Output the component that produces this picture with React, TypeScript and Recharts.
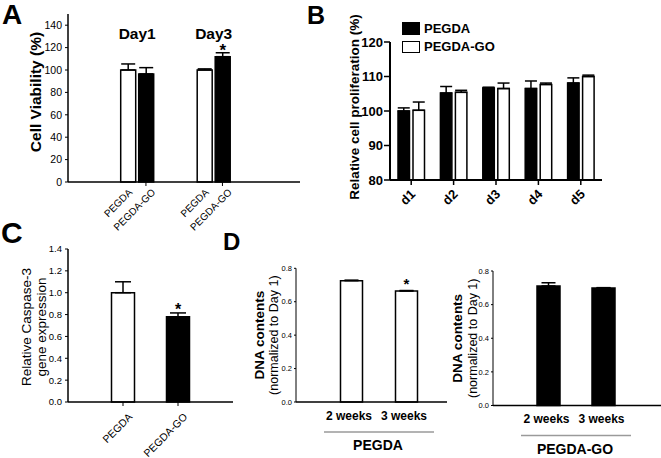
import React from 'react';
import { BarChart, Bar, XAxis, YAxis, ErrorBar, LabelList, Legend, Cell } from 'recharts';

const FONT = '"Liberation Sans", Arial, Helvetica, sans-serif';

const materials = ['PEGDA', 'PEGDA-GO'];

// A: cell viability (%)
const viabilityDays = ['Day1', 'Day3'];
const viabilityPegda = [100, 100];
const viabilityPegdaErr = [5.4, 1.0];
const viabilityGo = [96.5, 111.9];
const viabilityGoErr = [5.6, 3.5];
const viabilityStars = ['', '*'];
const viabilityTicks = [0, 20, 40, 60, 80, 100, 120, 140];

// B: relative cell proliferation (%)
const prolifDays = ['d1', 'd2', 'd3', 'd4', 'd5'];
const prolifPegda = [100, 105.2, 106.7, 106.5, 108.1];
const prolifPegdaErr = [0.9, 1.9, 0.2, 2.2, 1.5];
const prolifGo = [100.2, 105.4, 106.5, 107.7, 110.0];
const prolifGoErr = [2.4, 0.6, 1.6, 0.4, 0.4];
const prolifTicks = [80, 90, 100, 110, 120];

// C: caspase-3 expression
const caspaseValues = [1.0, 0.78];
const caspaseErr = [0.1, 0.035];
const caspaseStars = ['', '*'];
const caspaseTicks = [0, 0.2, 0.4, 0.6, 0.8, 1.0, 1.2, 1.4];

// D: DNA contents
const weeks = ['2 weeks', '3 weeks'];
const dnaPegda = [0.726, 0.664];
const dnaPegdaErr = [0.003, 0.003];
const dnaPegdaStars = ['', '*'];
const dnaGo = [0.711, 0.699];
const dnaGoErr = [0.019, 0.002];
const dnaGoStars = ['', ''];
const dnaTicks = [0, 0.2, 0.4, 0.6, 0.8];

const viabilityData = viabilityDays.map((day, i) => ({
  day,
  pegda: viabilityPegda[i],
  pegdaErr: [0, viabilityPegdaErr[i]],
  go: viabilityGo[i],
  goErr: [0, viabilityGoErr[i]],
  star: viabilityStars[i],
}));

const prolifData = prolifDays.map((day, i) => ({
  day,
  pegda: prolifPegda[i],
  pegdaErr: [0, prolifPegdaErr[i]],
  go: prolifGo[i],
  goErr: [0, prolifGoErr[i]],
}));

const caspaseData = materials.map((name, i) => ({
  name,
  value: caspaseValues[i],
  err: [0, caspaseErr[i]],
  star: caspaseStars[i],
}));

const dnaPegdaData = weeks.map((week, i) => ({
  week,
  value: dnaPegda[i],
  err: [0, dnaPegdaErr[i]],
  star: dnaPegdaStars[i],
}));

const dnaGoData = weeks.map((week, i) => ({
  week,
  value: dnaGo[i],
  err: [0, dnaGoErr[i]],
  star: dnaGoStars[i],
}));

const axisLine = { stroke: '#000', strokeWidth: 1.5 };
const tickLine = { stroke: '#000', strokeWidth: 1 };

type TitleLine = { text: string; dx: number; size: number; weight: string };

// rotated y-axis title, one or more lines
const yTitle = (lines: TitleLine[], dy = 0) => (props: any) => {
  const { x, y, height } = props.viewBox;
  const cy = y + height / 2 + dy;
  return (
    <g>
      {lines.map((l) => (
        <text
          key={l.text}
          x={x + l.dx}
          y={cy}
          transform={`rotate(-90, ${x + l.dx}, ${cy})`}
          textAnchor="middle"
          fontFamily={FONT}
          fontSize={l.size}
          fontWeight={l.weight}
          fill="#000"
        >
          {l.text}
        </text>
      ))}
    </g>
  );
};

// grey bracket + group name under panel D
const groupTitle = (name: string) => (props: any) => {
  const { x, y } = props.viewBox;
  return (
    <g>
      <line x1={x + 28} x2={x + 138} y1={y + 30} y2={y + 30} stroke="#9a9a9a" strokeWidth={1.5} />
      <text x={x + 82} y={y + 48} textAnchor="middle" fontFamily={FONT} fontSize={14} fontWeight="bold" fill="#000">
        {name}
      </text>
    </g>
  );
};

const starLabel = (size: number, dy: number) => (props: any) => {
  const { x, y, width, value } = props;
  if (!value) return null;
  return (
    <text x={x + width / 2} y={y + dy} textAnchor="middle" fontFamily={FONT} fontSize={size} fontWeight="bold" fill="#000">
      {value}
    </text>
  );
};

const dayLabel = (props: any) => {
  const { x, width, value } = props;
  return (
    <text x={x + width + 1.5} y={38.5} textAnchor="middle" fontFamily={FONT} fontSize={15.5} fontWeight="bold" fill="#000">
      {value}
    </text>
  );
};

const rotated = (x: number, y: number, text: string, size: number, weight = 'normal') => (
  <text
    x={x}
    y={y}
    textAnchor="end"
    transform={`rotate(-45, ${x}, ${y})`}
    fontFamily={FONT}
    fontSize={size}
    fontWeight={weight}
    fill="#000"
  >
    {text}
  </text>
);

const ViabilityTick = (props: any) => {
  const { x, y } = props;
  return (
    <g>
      <line x1={x + 9} x2={x + 9} y1={y} y2={y + 4} stroke="#000" strokeWidth={1} />
      {rotated(x - 4, y + 11, materials[0], 10)}
      {rotated(x + 19, y + 11, materials[1], 10)}
    </g>
  );
};

const ProlifTick = (props: any) => {
  const { x, y, payload } = props;
  return rotated(x + 5, y + 10, payload.value, 13, 'bold');
};

const CaspaseTick = (props: any) => {
  const { x, y, payload } = props;
  return rotated(x + 10, y + 11.6, payload.value, 10.5);
};

const WeekTick = (props: any) => {
  const { x, y, payload } = props;
  return (
    <text x={x - 2} y={y + 17.5} textAnchor="middle" fontFamily={FONT} fontSize={12} fontWeight="bold" fill="#000">
      {payload.value}
    </text>
  );
};

const ProlifLegend = (props: any) => (
  <div style={{ fontFamily: FONT, fontWeight: 'bold', fontSize: 13, color: '#000' }}>
    {(props.payload || []).map((entry: any) => (
      <div key={entry.value} style={{ display: 'flex', alignItems: 'center', height: 18.5 }}>
        <span
          style={{
            display: 'inline-block',
            boxSizing: 'border-box',
            width: 18,
            height: 12.5,
            background: entry.color,
            border: '1.5px solid #000',
            marginRight: 4,
          }}
        />
        <span>{entry.value}</span>
      </div>
    ))}
  </div>
);

const letter = (text: string, left: number, top: number, size: number) => (
  <div
    style={{
      position: 'absolute',
      left,
      top,
      fontFamily: FONT,
      fontWeight: 'bold',
      fontSize: size,
      lineHeight: 1.1,
      color: '#000',
    }}
  >
    {text}
  </div>
);

const App = () => {
  const tickText = (size: number, weight = 'normal') => ({ fill: '#000', fontSize: size, fontFamily: FONT, fontWeight: weight });
  return (
    <div style={{ position: 'absolute', left: 0, top: 0, width: 661, height: 458, background: '#fff', overflow: 'hidden' }}>
      {/* A */}
      <div style={{ position: 'absolute', left: 0, top: 0 }}>
        <BarChart width={300} height={246} data={viabilityData} margin={{ top: 14, right: 0, bottom: 0, left: 0 }} barSize={15} barGap={3}>
          <XAxis
            dataKey="day"
            height={64}
            padding={{ left: 30.7, right: 48.3 }}
            interval={0}
            axisLine={axisLine}
            tickLine={false}
            tickSize={0}
            tickMargin={0}
            tick={<ViabilityTick />}
          />
          <YAxis
            width={68}
            domain={[0, 150]}
            ticks={viabilityTicks}
            interval={0}
            axisLine={axisLine}
            tickLine={tickLine}
            tickSize={3}
            tickMargin={3}
            tick={tickText(10.5)}
            label={yTitle([{ text: 'Cell Viability (%)', dx: 40.5, size: 15.5, weight: 'bold' }], -6)}
          />
          <Bar dataKey="pegda" name={materials[0]} fill="#fff" stroke="#000" strokeWidth={1.5} isAnimationActive={false}>
            <ErrorBar dataKey="pegdaErr" width={7} stroke="#000" strokeWidth={1.5} isAnimationActive={false} />
            <LabelList dataKey="day" content={dayLabel} />
          </Bar>
          <Bar dataKey="go" name={materials[1]} fill="#000" stroke="#000" strokeWidth={1.5} isAnimationActive={false}>
            <ErrorBar dataKey="goErr" width={7} stroke="#000" strokeWidth={1.5} isAnimationActive={false} />
            <LabelList dataKey="star" content={starLabel(17, -1)} />
          </Bar>
        </BarChart>
      </div>

      {/* B */}
      <div style={{ position: 'absolute', left: 300, top: 0 }}>
        <BarChart width={320} height={215} data={prolifData} margin={{ top: 42, right: 18, bottom: 0, left: 0 }} barSize={11.5} barGap={3.5}>
          <XAxis
            dataKey="day"
            height={35}
            interval={0}
            axisLine={{ stroke: '#000', strokeWidth: 2 }}
            tickLine={{ stroke: '#000', strokeWidth: 1.5 }}
            tickSize={5}
            tickMargin={0}
            tick={<ProlifTick />}
          />
          <YAxis
            width={90}
            domain={[80, 120]}
            ticks={prolifTicks}
            interval={0}
            axisLine={{ stroke: '#000', strokeWidth: 2 }}
            tickLine={{ stroke: '#000', strokeWidth: 1.5 }}
            tickSize={6}
            tickMargin={1}
            tick={tickText(13, 'bold')}
            label={yTitle([{ text: 'Relative cell proliferation (%)', dx: 59, size: 13.5, weight: 'bold' }], -4)}
          />
          <Legend
            layout="vertical"
            align="center"
            verticalAlign="middle"
            wrapperStyle={{ left: 102, top: 19, width: 'auto' }}
            content={<ProlifLegend />}
          />
          <Bar dataKey="pegda" name={materials[0]} fill="#000" stroke="#000" strokeWidth={1.5} isAnimationActive={false}>
            <ErrorBar dataKey="pegdaErr" width={6} stroke="#000" strokeWidth={1.5} isAnimationActive={false} />
          </Bar>
          <Bar dataKey="go" name={materials[1]} fill="#fff" stroke="#000" strokeWidth={1.5} isAnimationActive={false}>
            <ErrorBar dataKey="goErr" width={6} stroke="#000" strokeWidth={1.5} isAnimationActive={false} />
          </Bar>
        </BarChart>
      </div>

      {/* C */}
      <div style={{ position: 'absolute', left: 0, top: 235 }}>
        <BarChart width={240} height={223} data={caspaseData} margin={{ top: 14, right: 7, bottom: 0, left: 0 }} barSize={23}>
          <XAxis
            dataKey="name"
            height={56}
            padding={{ left: 27.5, right: 27.5 }}
            interval={0}
            axisLine={axisLine}
            tickLine={tickLine}
            tickSize={4}
            tickMargin={0}
            tick={<CaspaseTick />}
          />
          <YAxis
            width={68}
            domain={[0, 1.4]}
            ticks={caspaseTicks}
            interval={0}
            tickFormatter={(v: number) => v.toFixed(1)}
            axisLine={axisLine}
            tickLine={tickLine}
            tickSize={3}
            tickMargin={3}
            tick={tickText(9.5)}
            label={yTitle(
              [
                { text: 'Relative Caspase-3', dx: 31, size: 13.5, weight: 'normal' },
                { text: 'gene expression', dx: 45.5, size: 13.5, weight: 'normal' },
              ],
              1.5,
            )}
          />
          <Bar dataKey="value" stroke="#000" strokeWidth={1.5} isAnimationActive={false}>
            {caspaseData.map((d, i) => (
              <Cell key={d.name} fill={i === 0 ? '#fff' : '#000'} />
            ))}
            <ErrorBar dataKey="err" width={8} stroke="#000" strokeWidth={1.5} isAnimationActive={false} />
            <LabelList dataKey="star" content={starLabel(16, -1.5)} />
          </Bar>
        </BarChart>
      </div>

      {/* D, PEGDA */}
      <div style={{ position: 'absolute', left: 222, top: 255 }}>
        <BarChart width={230} height={203} data={dnaPegdaData} margin={{ top: 13.3, right: 5, bottom: 0, left: 0 }} barSize={22}>
          <XAxis
            dataKey="week"
            height={56}
            padding={{ left: 27.5, right: 13.5 }}
            interval={0}
            axisLine={axisLine}
            tickLine={false}
            tickSize={0}
            tickMargin={0}
            tick={<WeekTick />}
            label={groupTitle(materials[0])}
          />
          <YAxis
            width={74}
            domain={[0, 0.8]}
            ticks={dnaTicks}
            interval={0}
            tickFormatter={(v: number) => v.toFixed(1)}
            axisLine={{ stroke: '#000', strokeWidth: 1 }}
            tickLine={tickLine}
            tickSize={2}
            tickMargin={2}
            tick={tickText(7.5)}
            label={yTitle([
              { text: 'DNA contents', dx: 42, size: 13.5, weight: 'bold' },
              { text: '(normalized to Day 1)', dx: 56, size: 12.5, weight: 'normal' },
            ])}
          />
          <Bar dataKey="value" fill="#fff" stroke="#000" strokeWidth={1.5} isAnimationActive={false}>
            <ErrorBar dataKey="err" width={7} stroke="#000" strokeWidth={1.5} isAnimationActive={false} />
            <LabelList dataKey="star" content={starLabel(15, -2)} />
          </Bar>
        </BarChart>
      </div>

      {/* D, PEGDA-GO */}
      <div style={{ position: 'absolute', left: 445, top: 258 }}>
        <BarChart width={216} height={200} data={dnaGoData} margin={{ top: 13, right: 0, bottom: 0, left: 0 }} barSize={23}>
          <XAxis
            dataKey="week"
            height={52.5}
            padding={{ left: 28, right: 30 }}
            interval={0}
            axisLine={axisLine}
            tickLine={false}
            tickSize={0}
            tickMargin={0}
            tick={<WeekTick />}
            label={groupTitle(materials[1])}
          />
          <YAxis
            width={48}
            domain={[0, 0.8]}
            ticks={dnaTicks}
            interval={0}
            tickFormatter={(v: number) => v.toFixed(1)}
            axisLine={{ stroke: '#000', strokeWidth: 1 }}
            tickLine={tickLine}
            tickSize={2}
            tickMargin={2}
            tick={tickText(7.5)}
            label={yTitle([
              { text: 'DNA contents', dx: 17, size: 13.5, weight: 'bold' },
              { text: '(normalized to Day 1)', dx: 31.5, size: 12.5, weight: 'normal' },
            ])}
          />
          <Bar dataKey="value" fill="#000" stroke="#000" strokeWidth={1.5} isAnimationActive={false}>
            <ErrorBar dataKey="err" width={7} stroke="#000" strokeWidth={1.5} isAnimationActive={false} />
            <LabelList dataKey="star" content={starLabel(15, -2)} />
          </Bar>
        </BarChart>
      </div>

      {letter('A', 2, 0, 28)}
      {letter('B', 307, 2, 25)}
      {letter('C', 1, 216, 30)}
      {letter('D', 223, 229, 24)}
    </div>
  );
};

export default App;
